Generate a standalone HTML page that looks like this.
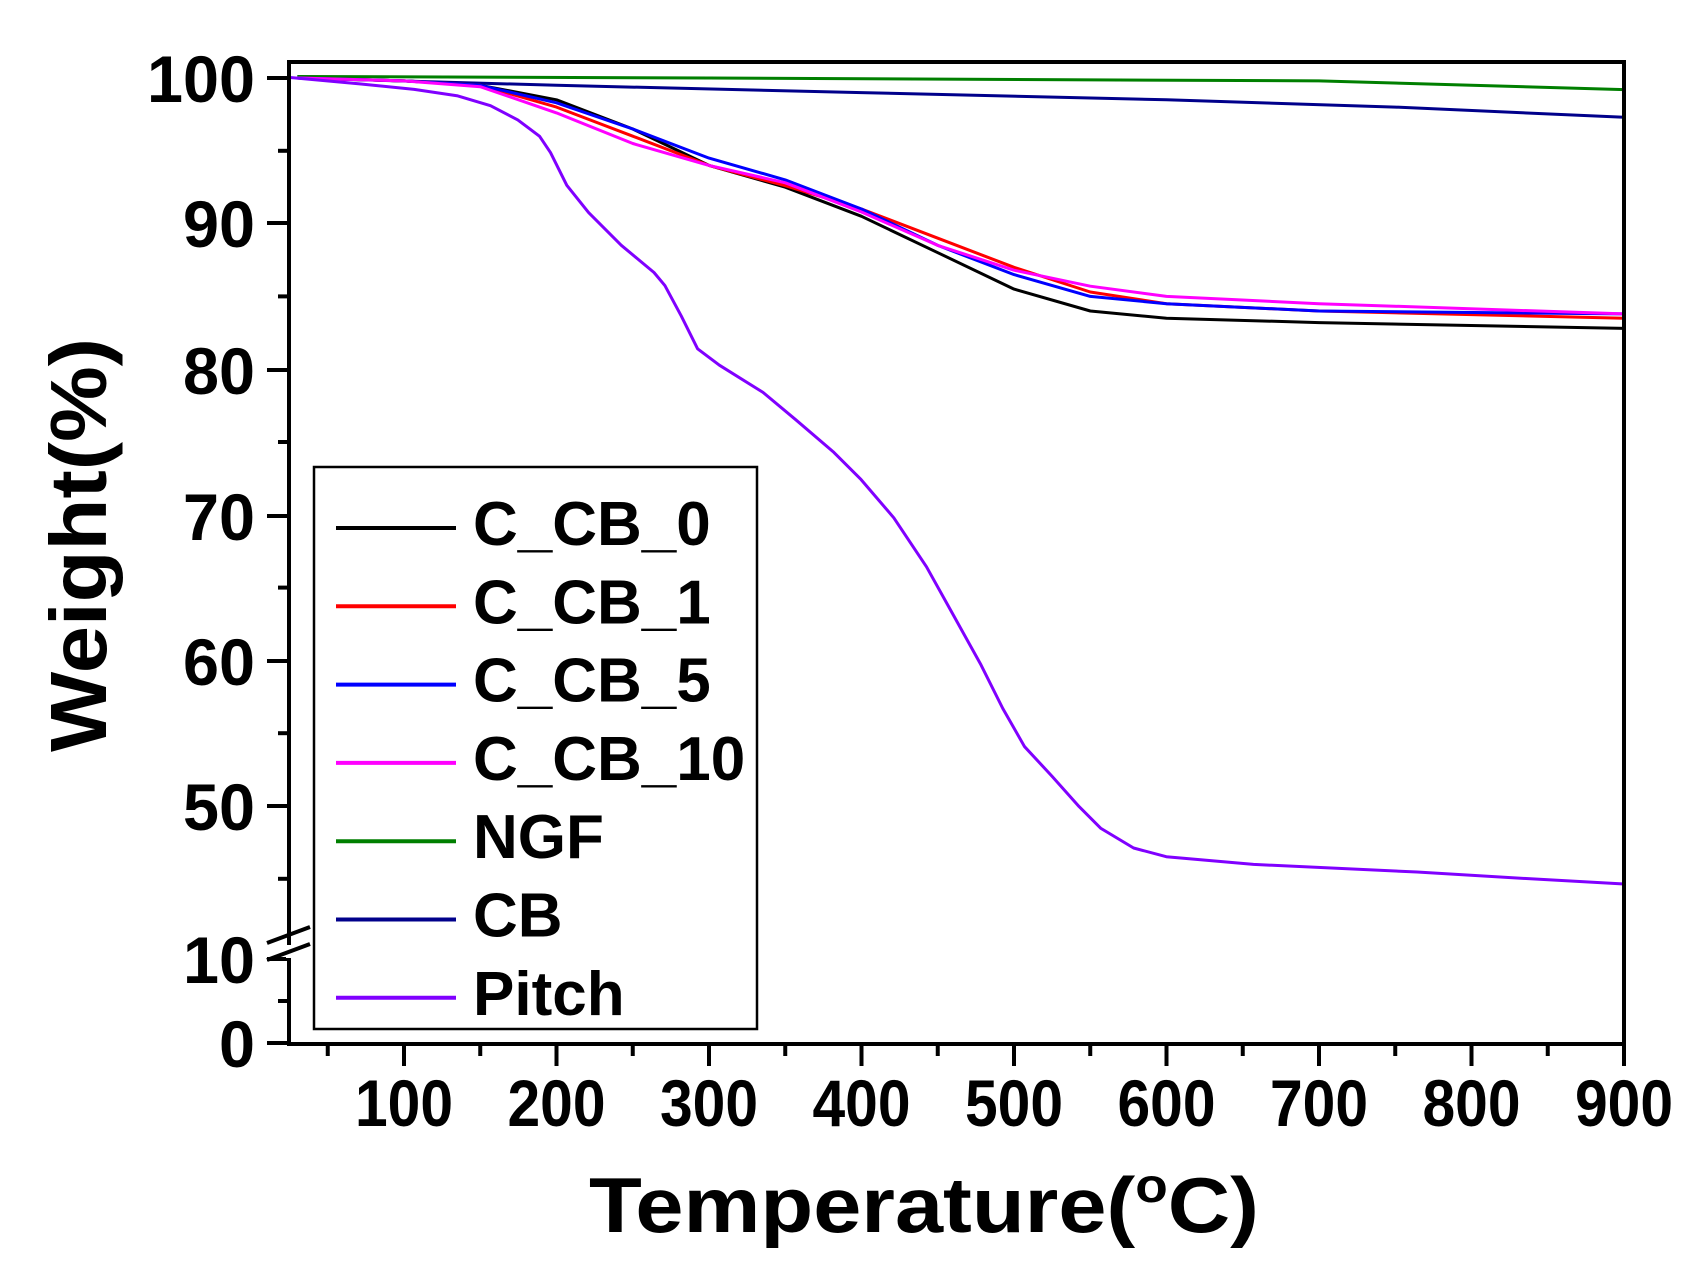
<!DOCTYPE html>
<html><head><meta charset="utf-8"><style>
html,body{margin:0;padding:0;background:#fff;}
svg{display:block;}
text{font-family:"Liberation Sans",Arial,sans-serif;font-weight:bold;fill:#000;}
</style></head><body>
<svg id="s" width="1708" height="1279" viewBox="0 0 1708 1279" xmlns="http://www.w3.org/2000/svg">
<rect x="0" y="0" width="1708" height="1279" fill="#fff"/>
<g id="curves" fill="none" stroke-width="3" stroke-linejoin="round"></g>
<rect x="289" y="62" width="1335" height="982" fill="none" stroke="#000" stroke-width="4"/>
<g id="ticks" stroke="#000" stroke-width="4"></g>
<line x1="289" y1="945" x2="289" y2="958" stroke="#fff" stroke-width="6"/>
<g stroke="#000" stroke-width="4">
<line x1="267" y1="943" x2="310" y2="927"/>
<line x1="267" y1="960" x2="310" y2="944"/>
</g>
<g id="labels" font-size="66"></g>
<rect x="314" y="467" width="443" height="562" fill="#fff" stroke="#000" stroke-width="2.5"/>
<g id="legend" font-size="62"></g>
<text x="589" y="1232" font-size="78" textLength="670" lengthAdjust="spacingAndGlyphs">Temperature(<tspan font-size="48" dy="-30">o</tspan><tspan dy="30">C)</tspan></text>
<text transform="translate(106,545) rotate(-90)" text-anchor="middle" font-size="80" textLength="414" lengthAdjust="spacingAndGlyphs">Weight(%)</text>
</svg>
<script>
var NS="http://www.w3.org/2000/svg";
function X(T){return 404+(T-100)*1.525;}
function Y(w){return 78+(100-w)*14.56;}
function el(tag,attrs,parent,txt){var e=document.createElementNS(NS,tag);for(var k in attrs)e.setAttribute(k,attrs[k]);if(txt!==undefined)e.textContent=txt;parent.appendChild(e);return e;}
var tk=document.getElementById('ticks');
for(var T=50;T<=900;T+=50){var x=X(T);var maj=T%100==0;el('line',{x1:x,y1:1044,x2:x,y2:maj?1066:1056},tk);}
var ys=[[100,78],[90,223],[80,370],[70,516],[60,661],[50,806],[10,959],[0,1043]];
ys.forEach(function(p){el('line',{x1:267,y1:p[1],x2:289,y2:p[1]},tk);});
[95,85,75,65,55,45].forEach(function(w){el('line',{x1:278,y1:Y(w),x2:289,y2:Y(w)},tk);});
el('line',{x1:278,y1:1001,x2:289,y2:1001},tk);
var lb=document.getElementById('labels');
ys.forEach(function(p){var s=String(p[0]);el('text',{x:255-(s.length==3?108:s.length==2?72:36),y:p[1]+24,textLength:(s.length==3?108:s.length==2?72:36),lengthAdjust:'spacingAndGlyphs'},lb,s);});
for(var T=100;T<=900;T+=100){el('text',{x:X(T)-49,y:1126,textLength:98,lengthAdjust:'spacingAndGlyphs'},lb,String(T));}
function pts(arr){return arr.map(function(p){return X(p[0]).toFixed(1)+','+Y(p[1]).toFixed(1);}).join(' ');}
var cv=document.getElementById('curves');
var series=[
['#007f00',[[30,100.1],[300,100],[700,99.8],[800,99.5],[900,99.2]]],
['#00008b',[[30,100],[200,99.5],[400,99],[600,98.5],[750,98],[900,97.3]]],
['#000',[[30,100],[100,99.8],[150,99.5],[200,98.5],[250,96.5],[300,94],[350,92.5],[400,90.5],[450,88],[500,85.5],[550,84],[600,83.5],[700,83.2],[900,82.8]]],
['#ff0000',[[30,100],[100,99.8],[150,99.5],[200,98],[250,96],[300,94],[350,92.6],[400,91],[450,89],[500,87],[550,85.3],[600,84.5],[700,84],[900,83.5]]],
['#0000ff',[[30,100],[100,99.8],[150,99.5],[200,98.3],[250,96.5],[300,94.5],[350,93],[400,91],[450,88.5],[500,86.5],[550,85],[600,84.5],[700,84],[900,83.8]]],
['#ff00ff',[[30,100],[100,99.8],[150,99.4],[200,97.6],[250,95.5],[300,94],[350,92.8],[400,90.8],[450,88.5],[500,86.8],[550,85.7],[600,85],[700,84.5],[900,83.8]]]
];
series.forEach(function(s){el('polyline',{points:pts(s[1]),stroke:s[0]},cv);});
var pd=[[265,71],[330,77],[380,82],[420,88],[450,97],[475,110],[495,125],[505,140],[520,170],[540,195],[570,225],[600,250],[610,262],[625,290],[640,320],[660,335],[700,360],[730,385],[765,415],[790,440],[820,475],[850,520],[875,565],[900,610],[920,650],[940,685],[965,712],[990,740],[1010,760],[1040,778],[1070,786],[1150,793],[1300,800],[1400,806],[1490,811]];
el('polyline',{points:pd.map(function(p){return (p[0]*1.09).toFixed(1)+','+(p[1]*1.09).toFixed(1);}).join(' '),stroke:'#8000ff'},cv);
var lg=document.getElementById('legend');
var L=[['C_CB_0','#000'],['C_CB_1','#ff0000'],['C_CB_5','#0000ff'],['C_CB_10','#ff00ff'],['NGF','#007f00'],['CB','#00008b'],['Pitch','#8000ff']];
L.forEach(function(l,i){var y=528+i*78.3;el('line',{x1:336,y1:y,x2:456,y2:y,stroke:l[1],'stroke-width':4},lg);el('text',{x:473,y:y+17},lg,l[0]);});
</script>
</body></html>
